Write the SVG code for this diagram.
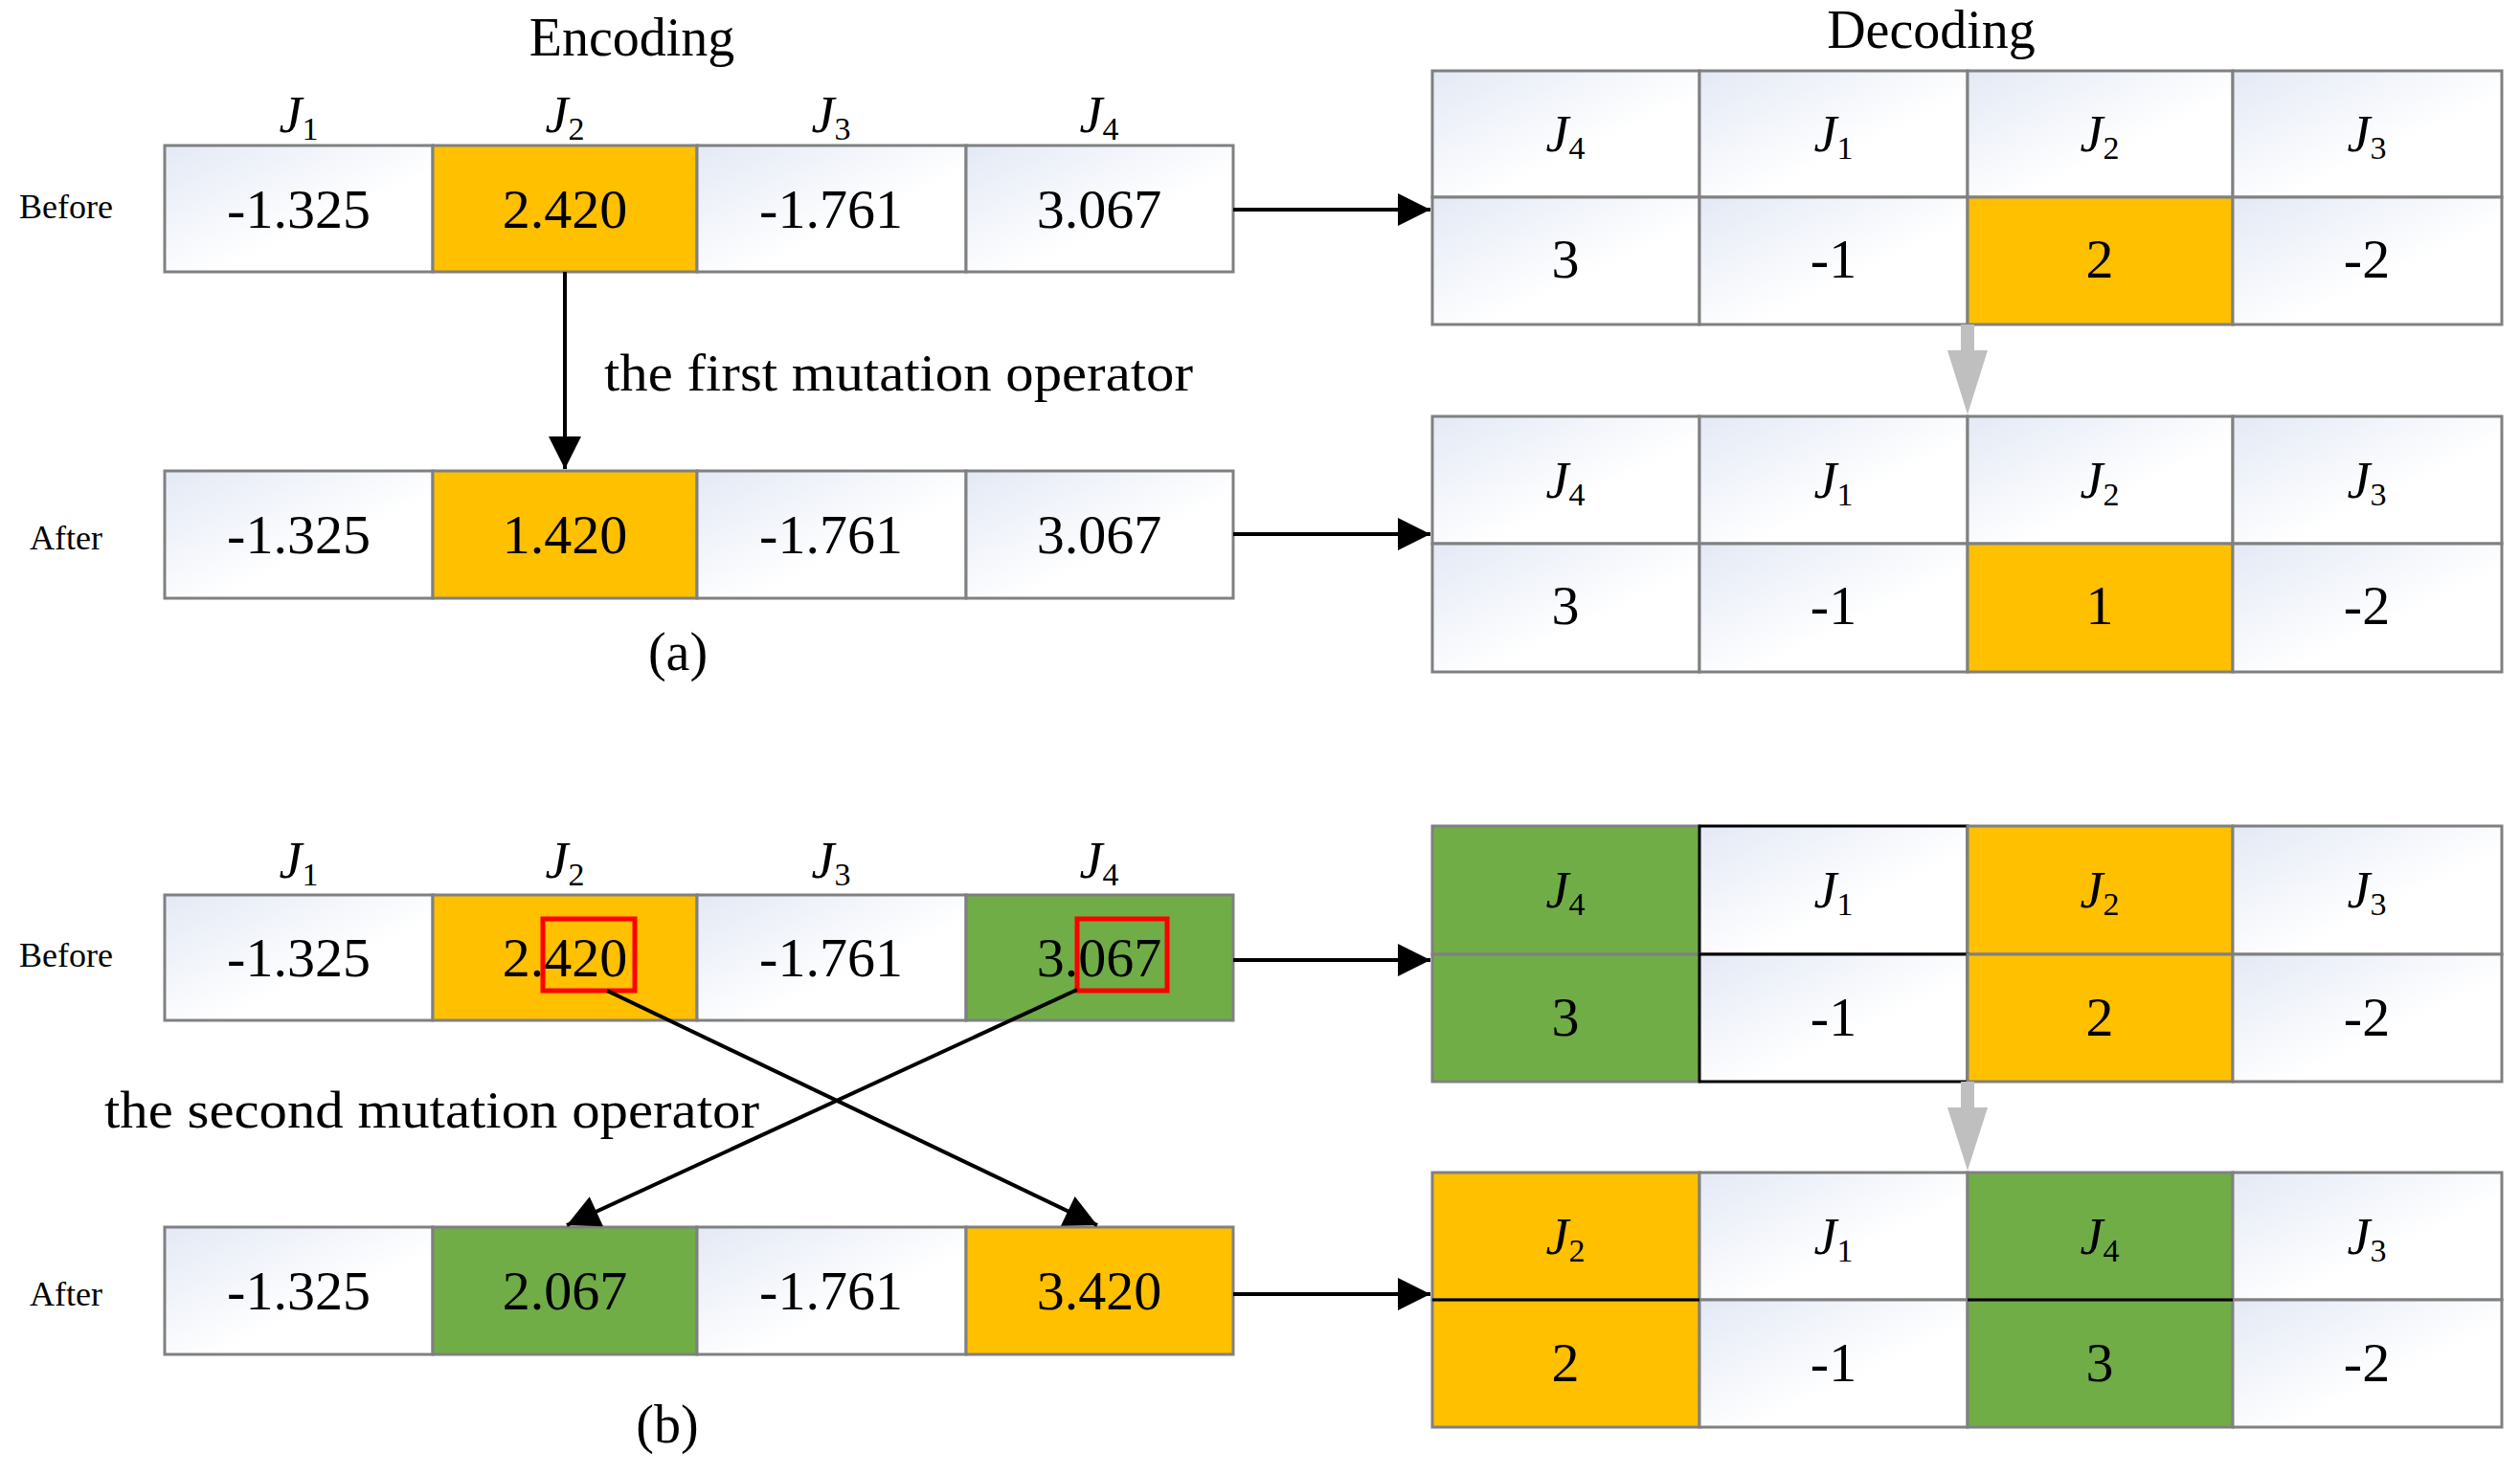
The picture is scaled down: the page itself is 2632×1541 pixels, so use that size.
<svg xmlns="http://www.w3.org/2000/svg" width="2632" height="1541" viewBox="0 0 2632 1541">
<defs>
<linearGradient id="g" x1="0" y1="0" x2="1" y2="1"><stop offset="0" stop-color="#e3e9f5"/><stop offset="0.6" stop-color="#ffffff"/></linearGradient>
<marker id="ah" viewBox="0 0 10 10" refX="10" refY="5" markerWidth="10" markerHeight="10" markerUnits="userSpaceOnUse" orient="auto"><path d="M0,0 L10,5 L0,10 z" fill="#000"/></marker>
<marker id="ab" viewBox="0 0 10 10" refX="10" refY="5" markerWidth="50" markerHeight="34" markerUnits="userSpaceOnUse" orient="auto"><path d="M0,0 L10,5 L0,10 z" fill="#000"/></marker>
</defs>
<style>
text{font-family:"Liberation Serif","Times New Roman",serif;fill:#000}
.w{fill:url(#g);stroke:#808080;stroke-width:3}
.y{fill:#ffc000;stroke:#808080;stroke-width:3}
.gr{fill:#70ad47;stroke:#808080;stroke-width:3}
.n{font-size:58px;text-anchor:middle}
.j{font-size:54px;font-style:italic;text-anchor:middle}
.s{font-size:34px;font-style:normal}
.lb{font-size:36px;text-anchor:middle}
.t{font-size:56px;text-anchor:middle}
.c{stroke:#000;stroke-width:4;fill:none}
</style>
<rect width="2632" height="1541" fill="#fff"/>
<text class="t" x="660" y="58">Encoding</text>
<text class="t" x="2017" y="50">Decoding</text>

<g id="enc-a-labels">
<text class="j" x="312" y="138">J<tspan class="s" dy="8">1</tspan></text>
<text class="j" x="590" y="138">J<tspan class="s" dy="8">2</tspan></text>
<text class="j" x="868" y="138">J<tspan class="s" dy="8">3</tspan></text>
<text class="j" x="1148" y="138">J<tspan class="s" dy="8">4</tspan></text>
<text class="lb" x="69" y="228">Before</text>
<text class="lb" x="69" y="574">After</text>
</g>
<g id="enc-a-before">
<rect class="w" x="172" y="152" width="280" height="132"/><rect class="y" x="452" y="152" width="276" height="132"/><rect class="w" x="728" y="152" width="281" height="132"/><rect class="w" x="1009" y="152" width="279" height="132"/>
<text class="n" x="312" y="238">-1.325</text><text class="n" x="590" y="238">2.420</text><text class="n" x="868" y="238">-1.761</text><text class="n" x="1148" y="238">3.067</text>
</g>
<g id="enc-a-after">
<rect class="w" x="172" y="492" width="280" height="133"/><rect class="y" x="452" y="492" width="276" height="133"/><rect class="w" x="728" y="492" width="281" height="133"/><rect class="w" x="1009" y="492" width="279" height="133"/>
<text class="n" x="312" y="578">-1.325</text><text class="n" x="590" y="578">1.420</text><text class="n" x="868" y="578">-1.761</text><text class="n" x="1148" y="578">3.067</text>
</g>
<text x="631" y="408" font-size="54" textLength="615" lengthAdjust="spacingAndGlyphs">the first mutation operator</text>
<text class="t" x="708" y="700" font-size="54">(a)</text>

<g id="dec-a-1">
<rect class="w" x="1496" y="74" width="279" height="132"/><rect class="w" x="1775" y="74" width="280" height="132"/><rect class="w" x="2055" y="74" width="277" height="132"/><rect class="w" x="2332" y="74" width="281" height="132"/>
<rect class="w" x="1496" y="206" width="279" height="133"/><rect class="w" x="1775" y="206" width="280" height="133"/><rect class="y" x="2055" y="206" width="277" height="133"/><rect class="w" x="2332" y="206" width="281" height="133"/>
<text class="j" x="1635" y="158">J<tspan class="s" dy="8">4</tspan></text><text class="j" x="1915" y="158">J<tspan class="s" dy="8">1</tspan></text><text class="j" x="2193" y="158">J<tspan class="s" dy="8">2</tspan></text><text class="j" x="2472" y="158">J<tspan class="s" dy="8">3</tspan></text>
<text class="n" x="1635" y="290">3</text><text class="n" x="1915" y="290">-1</text><text class="n" x="2193" y="290">2</text><text class="n" x="2472" y="290">-2</text>
</g>
<g id="dec-a-2">
<rect class="w" x="1496" y="435" width="279" height="133"/><rect class="w" x="1775" y="435" width="280" height="133"/><rect class="w" x="2055" y="435" width="277" height="133"/><rect class="w" x="2332" y="435" width="281" height="133"/>
<rect class="w" x="1496" y="568" width="279" height="134"/><rect class="w" x="1775" y="568" width="280" height="134"/><rect class="y" x="2055" y="568" width="277" height="134"/><rect class="w" x="2332" y="568" width="281" height="134"/>
<text class="j" x="1635" y="520">J<tspan class="s" dy="8">4</tspan></text><text class="j" x="1915" y="520">J<tspan class="s" dy="8">1</tspan></text><text class="j" x="2193" y="520">J<tspan class="s" dy="8">2</tspan></text><text class="j" x="2472" y="520">J<tspan class="s" dy="8">3</tspan></text>
<text class="n" x="1635" y="652">3</text><text class="n" x="1915" y="652">-1</text><text class="n" x="2193" y="652">1</text><text class="n" x="2472" y="652">-2</text>
</g>

<g id="enc-b-labels">
<text class="j" x="312" y="917">J<tspan class="s" dy="8">1</tspan></text>
<text class="j" x="590" y="917">J<tspan class="s" dy="8">2</tspan></text>
<text class="j" x="868" y="917">J<tspan class="s" dy="8">3</tspan></text>
<text class="j" x="1148" y="917">J<tspan class="s" dy="8">4</tspan></text>
<text class="lb" x="69" y="1010">Before</text>
<text class="lb" x="69" y="1364">After</text>
</g>
<g id="enc-b-before">
<rect class="w" x="172" y="935" width="280" height="131"/><rect class="y" x="452" y="935" width="276" height="131"/><rect class="w" x="728" y="935" width="281" height="131"/><rect class="gr" x="1009" y="935" width="279" height="131"/>
<text class="n" x="312" y="1020">-1.325</text><text class="n" x="590" y="1020">2.420</text><text class="n" x="868" y="1020">-1.761</text><text class="n" x="1148" y="1020">3.067</text>
<rect x="567" y="960" width="96" height="75" fill="none" stroke="#ff0000" stroke-width="5"/>
<rect x="1125" y="960" width="94" height="75" fill="none" stroke="#ff0000" stroke-width="5"/>
</g>
<g id="enc-b-after">
<rect class="w" x="172" y="1282" width="280" height="133"/><rect class="gr" x="452" y="1282" width="276" height="133"/><rect class="w" x="728" y="1282" width="281" height="133"/><rect class="y" x="1009" y="1282" width="279" height="133"/>
<text class="n" x="312" y="1368">-1.325</text><text class="n" x="590" y="1368">2.067</text><text class="n" x="868" y="1368">-1.761</text><text class="n" x="1148" y="1368">3.420</text>
</g>
<text x="109" y="1178" font-size="54" textLength="684" lengthAdjust="spacingAndGlyphs">the second mutation operator</text>
<text class="t" x="697" y="1507" font-size="54">(b)</text>

<g id="dec-b-1">
<rect class="gr" x="1496" y="863" width="279" height="134"/><rect class="w" x="1775" y="863" width="280" height="134" style="stroke:#000"/><rect class="y" x="2055" y="863" width="277" height="134"/><rect class="w" x="2332" y="863" width="281" height="134"/>
<rect class="gr" x="1496" y="997" width="279" height="133"/><rect class="w" x="1775" y="997" width="280" height="133" style="stroke:#000"/><rect class="y" x="2055" y="997" width="277" height="133"/><rect class="w" x="2332" y="997" width="281" height="133"/>
<text class="j" x="1635" y="948">J<tspan class="s" dy="8">4</tspan></text><text class="j" x="1915" y="948">J<tspan class="s" dy="8">1</tspan></text><text class="j" x="2193" y="948">J<tspan class="s" dy="8">2</tspan></text><text class="j" x="2472" y="948">J<tspan class="s" dy="8">3</tspan></text>
<text class="n" x="1635" y="1082">3</text><text class="n" x="1915" y="1082">-1</text><text class="n" x="2193" y="1082">2</text><text class="n" x="2472" y="1082">-2</text>
</g>
<g id="dec-b-2">
<rect class="y" x="1496" y="1225" width="279" height="133"/><rect class="w" x="1775" y="1225" width="280" height="133"/><rect class="gr" x="2055" y="1225" width="277" height="133"/><rect class="w" x="2332" y="1225" width="281" height="133"/>
<rect class="y" x="1496" y="1358" width="279" height="133"/><rect class="w" x="1775" y="1358" width="280" height="133"/><rect class="gr" x="2055" y="1358" width="277" height="133"/><rect class="w" x="2332" y="1358" width="281" height="133"/>
<line x1="1496" y1="1358" x2="1775" y2="1358" stroke="#000" stroke-width="3"/><line x1="2055" y1="1358" x2="2332" y2="1358" stroke="#000" stroke-width="3"/>
<text class="j" x="1635" y="1310">J<tspan class="s" dy="8">2</tspan></text><text class="j" x="1915" y="1310">J<tspan class="s" dy="8">1</tspan></text><text class="j" x="2193" y="1310">J<tspan class="s" dy="8">4</tspan></text><text class="j" x="2472" y="1310">J<tspan class="s" dy="8">3</tspan></text>
<text class="n" x="1635" y="1443">2</text><text class="n" x="1915" y="1443">-1</text><text class="n" x="2193" y="1443">3</text><text class="n" x="2472" y="1443">-2</text>
</g>

<g id="connectors">
<line class="c" x1="590" y1="284" x2="590" y2="490" marker-end="url(#ab)" style="--m:0"/>
<line class="c" x1="1288" y1="219" x2="1494" y2="219" marker-end="url(#ab)"/>
<line class="c" x1="1288" y1="558" x2="1494" y2="558" marker-end="url(#ab)"/>
<line class="c" x1="1288" y1="1003" x2="1494" y2="1003" marker-end="url(#ab)"/>
<line class="c" x1="1288" y1="1352" x2="1494" y2="1352" marker-end="url(#ab)"/>
<line class="c" x1="634" y1="1035" x2="1146" y2="1280" marker-end="url(#ab)"/>
<line class="c" x1="1125" y1="1034" x2="592" y2="1280" marker-end="url(#ab)"/>
<path d="M2048,339 L2062,339 L2062,366 L2076,366 L2055,433 L2034,366 L2048,366 z" fill="#bfbfbf"/>
<path d="M2048,1130 L2062,1130 L2062,1157 L2076,1157 L2055,1223 L2034,1157 L2048,1157 z" fill="#bfbfbf"/>
</g>
</svg>
